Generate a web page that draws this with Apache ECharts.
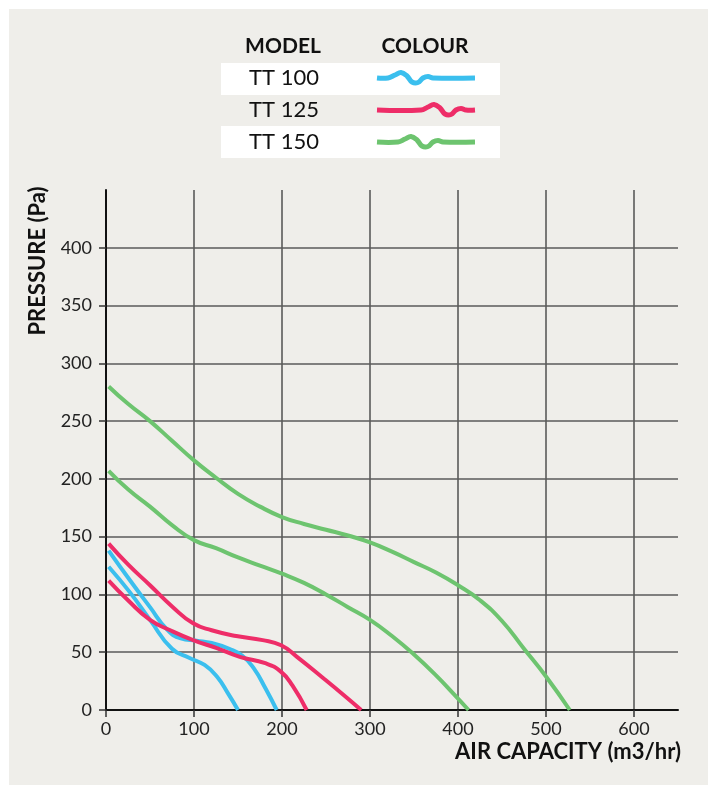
<!DOCTYPE html>
<html>
<head>
<meta charset="utf-8">
<script src="https://cdn.jsdelivr.net/npm/echarts@6/dist/echarts.min.js"></script>
<style>
html,body{margin:0;padding:0;background:#ffffff;}
#panel{position:absolute;left:9px;top:9px;right:0;bottom:0;background:#efeeea;}
#chart{position:absolute;left:0;top:0;width:708px;height:785px;}
</style>
</head>
<body>
<div id="panel"></div>
<div id="chart"></div>
<script>
// ---- data ----
const models = ['TT 100', 'TT 125', 'TT 150'];
const colours = ['#3bbfee', '#ee2d68', '#6dc46f'];
const xTickLabels = [0, 100, 200, 300, 400, 500, 600];
const yTickLabels = [0, 50, 100, 150, 200, 250, 300, 350, 400];

const tt100High = [[3,138],[27,112.5],[50,89],[69,70],[85,62],[103,60],[120,58],[140,53],[155,47],[168,36],[181,19],[194,0]];
const tt100Low  = [[3,124],[27,102],[50,78],[75,53],[95,45],[112,39],[126,29],[139,14],[150,0]];
const tt125High = [[3,144],[25,126],[50,108],[76,89],[99,75],[120,69],[148,64],[178,60.5],[199,56],[217,46],[247,27.5],[270,13],[290,0]];
const tt125Low  = [[3,112],[25,95],[50,78],[73,69],[99,60.5],[126,53.5],[152,46],[181,40.5],[199,33],[212,21],[228,0]];
const tt150High = [[3,280],[25,265],[50,250],[75,233],[100,216],[125,201],[150,187],[175,176],[200,167],[225,161],[250,156],[275,151],[300,145],[325,137],[350,128],[375,119],[400,108],[425,95],[450,77],[475,53],[500,29],[527,0]];
const tt150Low  = [[3,207],[25,191],[50,176],[75,160],[100,147],[125,140],[150,132],[175,125],[200,118],[225,110],[250,100],[275,89],[300,78],[325,64],[350,48],[375,30],[395,14],[412,0]];

const seriesDefs = [
  {name:'TT 100', data:tt100High, c:0},
  {name:'TT 100', data:tt100Low,  c:0},
  {name:'TT 125', data:tt125High, c:1},
  {name:'TT 125', data:tt125Low,  c:1},
  {name:'TT 150', data:tt150High, c:2},
  {name:'TT 150', data:tt150Low,  c:2}
];

const chart = echarts.init(document.getElementById('chart'), null, {renderer:'canvas'});
const FONT = 'Lato';
const gridColor = '#5a5a5a';

// legend table graphics
const legendGraphics = [];
legendGraphics.push({type:'rect', shape:{x:221,y:63,width:279,height:32}, style:{fill:'#ffffff'}, silent:true});
legendGraphics.push({type:'rect', shape:{x:221,y:126,width:279,height:32}, style:{fill:'#ffffff'}, silent:true});
legendGraphics.push({type:'text', x:283, y:46, style:{text:'MODEL', font:'bold 21px '+FONT, fill:'#111', align:'center', verticalAlign:'middle'}});
legendGraphics.push({type:'text', x:425, y:46, style:{text:'COLOUR', font:'bold 21px '+FONT, fill:'#111', align:'center', verticalAlign:'middle'}});
const rowY = [78, 110, 142];
const wiggleStart = [388, 421, 398];
const wiggleShape = [[0,0],[7,-3],[13,-5.5],[19,-2],[24,4],[30,4.5],[35,0],[40,-1.5],[45,0]];
models.forEach((m, i) => {
  legendGraphics.push({type:'text', x:284, y:rowY[i], style:{text:m, font:'22px '+FONT, fill:'#111', align:'center', verticalAlign:'middle'}});
  const pts = [[377,rowY[i]]];
  wiggleShape.forEach(p => pts.push([wiggleStart[i]+p[0], rowY[i]+p[1]]));
  pts.push([475,rowY[i]]);
  legendGraphics.push({type:'polyline', shape:{points:pts, smooth:0.4}, style:{stroke:colours[i], lineWidth:5, fill:null, lineCap:'butt', lineJoin:'round'}, silent:true});
});
legendGraphics.push({type:'text', x:38, y:261, rotation:Math.PI/2, style:{text:'PRESSURE (Pa)', font:'bold 22px '+FONT, fill:'#111', align:'center', verticalAlign:'middle'}});
legendGraphics.push({type:'text', x:681, y:752, style:{text:'AIR CAPACITY (m3/hr)', font:'bold 22px '+FONT, fill:'#111', align:'right', verticalAlign:'middle'}});

const option = {
  backgroundColor:'transparent',
  animation:false,
  grid:{left:106, right:30, top:190, bottom:75, containLabel:false},
  xAxis:{
    type:'value', min:0, max:650, interval:50,
    axisLine:{show:true, onZero:false, lineStyle:{color:'#111', width:2}},
    axisTick:{show:true, length:7, lineStyle:{color:'#333', width:1.5}, customValues:xTickLabels},
    axisLabel:{show:true, margin:10, fontSize:18, fontFamily:FONT, color:'#222', customValues:xTickLabels},
    splitLine:{show:true, lineStyle:{color:gridColor, width:1.6}}
  },
  yAxis:{
    type:'value', min:0, max:450, interval:25,
    axisLine:{show:true, onZero:false, lineStyle:{color:'#111', width:2}},
    axisTick:{show:true, length:7, lineStyle:{color:'#333', width:1.5}, customValues:yTickLabels},
    axisLabel:{show:true, margin:14, fontSize:18, fontFamily:FONT, color:'#222', customValues:yTickLabels},
    splitLine:{show:true, lineStyle:{color:gridColor, width:1.6}}
  },
  graphic:legendGraphics,
  series: seriesDefs.map(s => ({
    type:'line', name:s.name, data:s.data, smooth:0.5, showSymbol:false, symbol:'none',
    lineStyle:{color:colours[s.c], width:4}, itemStyle:{color:colours[s.c]}, z:5
  }))
};
chart.setOption(option);
</script>
</body>
</html>
